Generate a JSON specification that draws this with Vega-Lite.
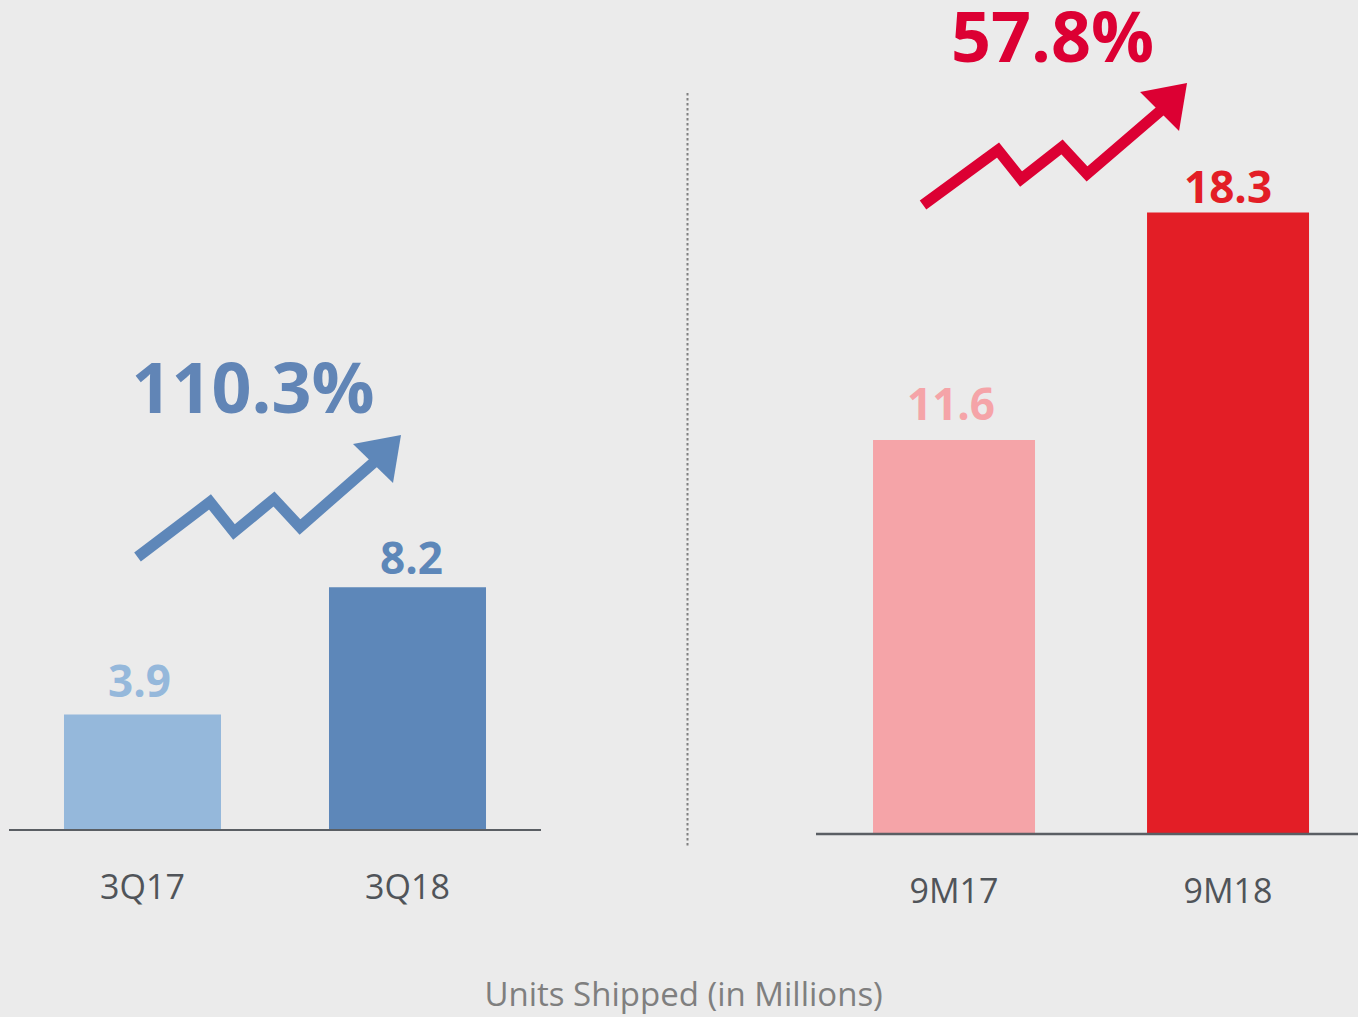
{
  "$schema": "https://vega.github.io/schema/vega-lite/v6.json",
  "background": "#ebebeb",
  "padding": {"left": 8, "top": 6, "right": 1, "bottom": 6},
  "autosize": {"type": "pad"},
  "bounds": "flush",
  "spacing": 275,
  "title": {"text": "Units Shipped (in Millions)", "orient": "bottom", "anchor": "middle", "frame": "bounds", "font": "Open Sans", "fontSize": 33, "fontWeight": "normal", "color": "#7f7f7f", "baseline": "alphabetic", "offset": 97},
  "resolve": {"scale": {"color": "independent"}},
  "config": {"view": {"stroke": null}, "font": "Open Sans"},
  "hconcat": [
    {
      "width": 532,
      "height": 753,
      "data": {"values": [{"period": "3Q17", "units": 3.9}, {"period": "3Q18", "units": 8.2}]},
      "layer": [
        {
          "mark": {"type": "bar"},
          "encoding": {
            "x": {"field": "period", "type": "nominal", "scale": {"domain": ["3Q17", "3Q18"], "paddingInner": 0.4075, "paddingOuter": 0.2075},
              "axis": {"title": null, "domain": false, "ticks": false, "tickSize": 0, "labelAngle": 0, "labelFont": "Open Sans", "labelFontSize": 34, "labelColor": "#505459", "labelBaseline": "alphabetic", "labelPadding": 53}},
            "y": {"field": "units", "type": "quantitative", "scale": {"domain": [-0.5068, 24.932], "nice": false},
              "axis": {"orient": "right", "offset": 146, "title": null, "labels": false, "ticks": false, "grid": false, "domain": true, "domainDash": [2.5, 2.5], "domainColor": "#808080", "domainWidth": 2}},
            "color": {"field": "period", "type": "nominal", "scale": {"domain": ["3Q17", "3Q18"], "range": ["#95b8db", "#5d87b9"]}, "legend": null}
          }
        },
        {
          "data": {"values": [{"base": 0}]},
          "mark": {"type": "rule", "color": "#5a5e63", "strokeWidth": 2},
          "encoding": {"y": {"field": "base", "type": "quantitative"}}
        },
        {
          "mark": {"type": "text", "font": "Open Sans", "fontWeight": "bold", "fontSize": 44, "baseline": "alphabetic", "dy": {"expr": "datum.period === '3Q17' ? -18 : -13"}, "dx": {"expr": "datum.period === '3Q17' ? -3 : 4"}},
          "encoding": {
            "x": {"field": "period", "type": "nominal"},
            "y": {"field": "units", "type": "quantitative"},
            "text": {"field": "units", "type": "quantitative", "format": ".1f"},
            "color": {"field": "period", "type": "nominal"}
          }
        },
        {
          "data": {"values": [{"growth": "110.3%"}]},
          "mark": {"type": "text", "font": "Open Sans", "fontWeight": "bold", "fontSize": 70, "align": "left", "baseline": "alphabetic", "dx": -11, "color": "#6185b6"},
          "encoding": {"x": {"datum": "3Q17"}, "y": {"datum": 14.09}, "text": {"field": "growth"}}
        },
        {
          "data": {"values": [{"growth": "110.3%"}]},
          "mark": {"type": "point", "shape": "M-270,23 L-197.5,-32 L-173.5,-2 L-133.5,-35 L-107.5,-7 L-27.5,-77", "size": 4, "filled": false, "stroke": "#5e87b9", "strokeWidth": 11, "strokeJoin": "miter", "strokeMiterLimit": 10, "opacity": 1},
          "encoding": {"x": {"datum": "3Q18"}, "y": {"datum": 10}}
        },
        {
          "data": {"values": [{"growth": "110.3%"}]},
          "mark": {"type": "point", "shape": "M-6.5,-99 L-54.5,-90 L-14.5,-51 Z", "size": 4, "filled": true, "color": "#5e87b9", "opacity": 1},
          "encoding": {"x": {"datum": "3Q18"}, "y": {"datum": 10}}
        }
      ]
    },
    {
      "width": 542,
      "height": 742,
      "data": {"values": [{"period": "9M17", "units": 11.6}, {"period": "9M18", "units": 18.3}]},
      "layer": [
        {
          "mark": {"type": "bar"},
          "encoding": {
            "x": {"field": "period", "type": "nominal", "scale": {"domain": ["9M17", "9M18"], "paddingInner": 0.4088, "paddingOuter": 0.1934, "align": 0.538},
              "axis": {"title": null, "domain": false, "ticks": false, "tickSize": 0, "labelAngle": 0, "labelFont": "Open Sans", "labelFontSize": 34, "labelColor": "#505459", "labelBaseline": "alphabetic", "labelPadding": 68}},
            "y": {"field": "units", "type": "quantitative", "scale": {"domain": [0, 21.849], "nice": false}, "axis": null},
            "color": {"field": "period", "type": "nominal", "scale": {"domain": ["9M17", "9M18"], "range": ["#f5a4a8", "#e31e26"]}, "legend": null}
          }
        },
        {
          "data": {"values": [{"base": 0}]},
          "mark": {"type": "rule", "color": "#5a5e63", "strokeWidth": 2.5},
          "encoding": {"y": {"field": "base", "type": "quantitative"}}
        },
        {
          "mark": {"type": "text", "font": "Open Sans", "fontWeight": "bold", "fontSize": 44, "baseline": "alphabetic", "dy": {"expr": "datum.period === '9M17' ? -20 : -10"}, "dx": {"expr": "datum.period === '9M17' ? -3 : 0"}},
          "encoding": {
            "x": {"field": "period", "type": "nominal"},
            "y": {"field": "units", "type": "quantitative"},
            "text": {"field": "units", "type": "quantitative", "format": ".1f"},
            "color": {"field": "period", "type": "nominal"}
          }
        },
        {
          "data": {"values": [{"growth": "57.8%"}]},
          "mark": {"type": "text", "font": "Open Sans", "fontWeight": "bold", "fontSize": 70, "align": "left", "baseline": "alphabetic", "dx": -3, "color": "#dc0033"},
          "encoding": {"x": {"datum": "9M17"}, "y": {"datum": 22.73}, "text": {"field": "growth"}}
        },
        {
          "data": {"values": [{"growth": "57.8%"}]},
          "mark": {"type": "point", "shape": "M-305,50.2 L-230,-4.8 L-207,24.2 L-166,-7.8 L-141,19.2 L-62,-48.8", "size": 4, "filled": false, "stroke": "#dc0033", "strokeWidth": 11, "strokeJoin": "miter", "strokeMiterLimit": 10, "opacity": 1},
          "encoding": {"x": {"datum": "9M18"}, "y": {"datum": 20}}
        },
        {
          "data": {"values": [{"growth": "57.8%"}]},
          "mark": {"type": "point", "shape": "M-41,-71.8 L-88,-62.8 L-49,-23.8 Z", "size": 4, "filled": true, "color": "#dc0033", "opacity": 1},
          "encoding": {"x": {"datum": "9M18"}, "y": {"datum": 20}}
        }
      ]
    }
  ]
}
